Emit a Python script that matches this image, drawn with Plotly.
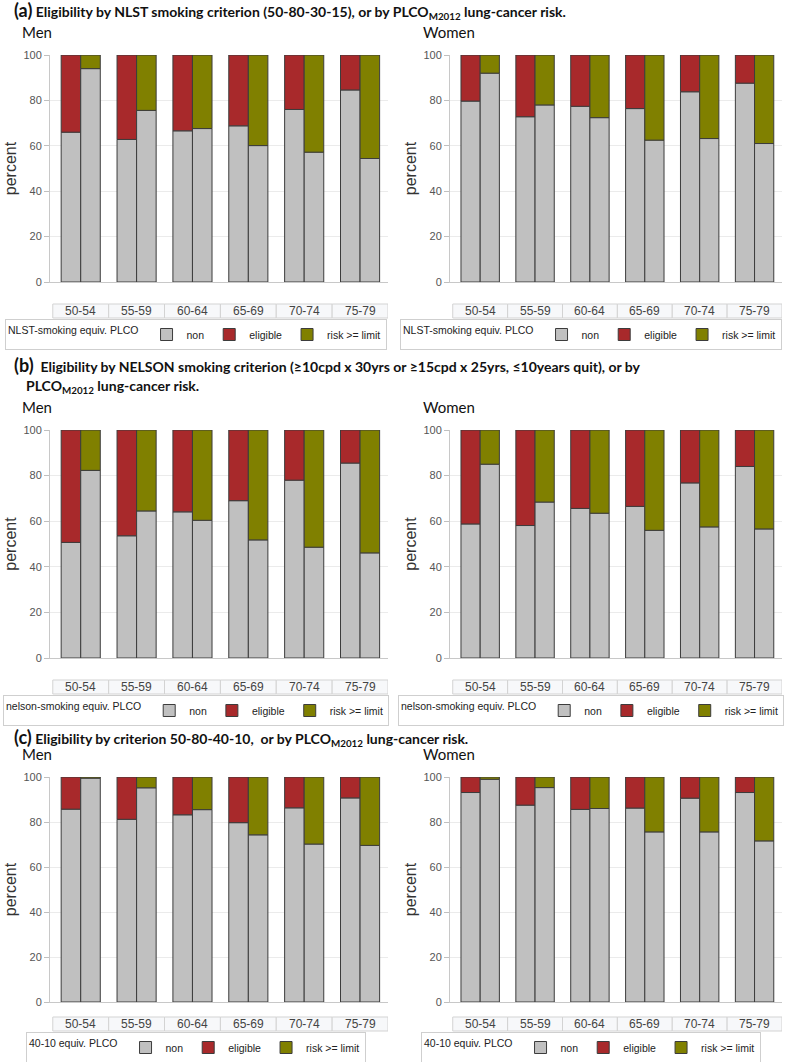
import plotly.graph_objects as go

W, H = 787, 1062

ages = ["50-54", "55-59", "60-64", "65-69", "70-74", "75-79"]
series_names = ["non", "eligible", "risk >= limit"]
legend_titles = ["NLST-smoking equiv. PLCO", "nelson-smoking equiv. PLCO", "40-10 equiv. PLCO"]

# (a) NLST criterion (50-80-30-15) vs PLCO risk
a_men_smk_non = [66, 62.8, 66.6, 68.8, 76, 84.6]
a_men_smk_elig = [34, 37.2, 33.4, 31.2, 24, 15.4]
a_men_plco_non = [94, 75.6, 67.6, 60.1, 57.2, 54.4]
a_men_plco_risk = [6, 24.4, 32.4, 39.9, 42.8, 45.6]
a_wom_smk_non = [79.7, 72.8, 77.4, 76.4, 83.8, 87.6]
a_wom_smk_elig = [20.3, 27.2, 22.6, 23.6, 16.2, 12.4]
a_wom_plco_non = [92, 78, 72.4, 62.5, 63.2, 61]
a_wom_plco_risk = [8, 22, 27.6, 37.5, 36.8, 39]

# (b) NELSON criterion vs PLCO risk
b_men_smk_non = [50.7, 53.6, 64.1, 69, 78, 85.5]
b_men_smk_elig = [49.3, 46.4, 35.9, 31, 22, 14.5]
b_men_plco_non = [82.3, 64.5, 60.4, 51.8, 48.6, 46.1]
b_men_plco_risk = [17.7, 35.5, 39.6, 48.2, 51.4, 53.9]
b_wom_smk_non = [58.8, 58.1, 65.6, 66.5, 76.8, 84]
b_wom_smk_elig = [41.2, 41.9, 34.4, 33.5, 23.2, 16]
b_wom_plco_non = [85, 68.4, 63.5, 56, 57.5, 56.6]
b_wom_plco_risk = [15, 31.6, 36.5, 44, 42.5, 43.4]

# (c) criterion 50-80-40-10 vs PLCO risk
c_men_smk_non = [85.7, 81.2, 83.2, 79.7, 86.3, 90.7]
c_men_smk_elig = [14.3, 18.8, 16.8, 20.3, 13.7, 9.3]
c_men_plco_non = [99.5, 95.2, 85.5, 74.3, 70.2, 69.6]
c_men_plco_risk = [0.5, 4.8, 14.5, 25.7, 29.8, 30.4]
c_wom_smk_non = [93.1, 87.5, 85.6, 86.2, 90.6, 93.1]
c_wom_smk_elig = [6.9, 12.5, 14.4, 13.8, 9.4, 6.9]
c_wom_plco_non = [99, 95.3, 86, 75.6, 75.6, 71.6]
c_wom_plco_risk = [1, 4.7, 14, 24.4, 24.4, 28.4]

panels = [
    (a_men_smk_non, a_men_smk_elig, a_men_plco_non, a_men_plco_risk),
    (a_wom_smk_non, a_wom_smk_elig, a_wom_plco_non, a_wom_plco_risk),
    (b_men_smk_non, b_men_smk_elig, b_men_plco_non, b_men_plco_risk),
    (b_wom_smk_non, b_wom_smk_elig, b_wom_plco_non, b_wom_plco_risk),
    (c_men_smk_non, c_men_smk_elig, c_men_plco_non, c_men_plco_risk),
    (c_wom_smk_non, c_wom_smk_elig, c_wom_plco_non, c_wom_plco_risk),
]

GREY, RED, OLIVE = "#C0C0C0", "#A8292B", "#808000"
EDGE = "#3C3C3C"
SANS = "Liberation Sans, Arial, sans-serif"
TITLEF = "Lato, Carlito, sans-serif"

def px(x):
    return x / W

def py(y):
    return 1 - y / H

# vertical geometry per row: (plot top = 100, plot bottom = 0, gap to category table)
rows = [(55, 282, 22), (430, 658, 22), (777, 1002, 15)]
xdoms = [(50, 388), (450, 782)]
legend_cx = [196, 591]

fig = go.Figure()
layout = dict(
    width=W, height=H,
    margin=dict(l=0, r=0, t=0, b=0, autoexpand=False),
    paper_bgcolor="white", plot_bgcolor="white",
    barmode="group", bargap=0.3, bargroupgap=0.0,
    showlegend=True,
)
shapes, annotations = [], []

for k, (smk_non, smk_elig, plco_non, plco_risk) in enumerate(panels):
    r, c = divmod(k, 2)
    n = k + 1
    xa = "x" if n == 1 else f"x{n}"
    ya = "y" if n == 1 else f"y{n}"
    lg = "legend" if n == 1 else f"legend{n}"
    top, bot, gap = rows[r]
    x0, x1 = xdoms[c]
    t_top, t_bot = bot + gap, bot + gap + 14

    common = dict(x=ages, xaxis=xa, yaxis=ya, legend=lg,
                  marker_line=dict(color=EDGE, width=1))
    fig.add_trace(go.Bar(y=smk_non, name=series_names[0], offsetgroup="smk",
                         marker_color=GREY, legendrank=1, **common))
    fig.add_trace(go.Bar(y=smk_elig, base=smk_non, name=series_names[1], offsetgroup="smk",
                         marker_color=RED, legendrank=2, **common))
    fig.add_trace(go.Bar(y=plco_non, name=series_names[0], offsetgroup="plco",
                         marker_color=GREY, showlegend=False, **common))
    fig.add_trace(go.Bar(y=plco_risk, base=plco_non, name=series_names[2], offsetgroup="plco",
                         marker_color=OLIVE, legendrank=3, **common))

    layout[f"xaxis{'' if n == 1 else n}"] = dict(
        domain=[px(x0), px(x1)], anchor=ya, type="category",
        range=[-0.55, 5.5], showticklabels=False, ticks="",
        showline=True, linecolor="#C8C8C8", linewidth=1, showgrid=False,
        zeroline=False, fixedrange=True, automargin=False,
    )
    layout[f"yaxis{'' if n == 1 else n}"] = dict(
        domain=[py(bot), py(top)], anchor=xa, range=[0, 100], dtick=20,
        ticks="outside", ticklen=5, tickcolor="#C0C0C0",
        showline=True, linecolor="#C8C8C8", linewidth=1,
        showgrid=True, gridcolor="#EBEBEB", gridwidth=1, zeroline=False,
        automargin=False, fixedrange=True,
        tickfont=dict(family=SANS, size=11, color="#555555"),
        title=dict(text="percent", font=dict(family=SANS, size=16, color="#333333"),
                   standoff=2),
    )
    # category table below the axis
    for i, age in enumerate(ages):
        shapes.append(dict(type="rect", xref=xa, yref="paper",
                           x0=i - 0.5, x1=i + 0.5, y0=py(t_bot), y1=py(t_top),
                           fillcolor="#F7F8FA", line=dict(color="#D3D3D3", width=1),
                           layer="below"))
        annotations.append(dict(xref=xa, yref="paper", x=age, y=py((t_top + t_bot) / 2),
                                text=age, showarrow=False, xanchor="center",
                                yanchor="middle",
                                font=dict(family=SANS, size=12, color="#444444")))
    layout[lg] = dict(
        orientation="h", x=px(legend_cx[c]), xanchor="center",
        y=py(t_bot + 1), yanchor="top",
        bgcolor="white", bordercolor="#CFCFCF", borderwidth=1,
        font=dict(family=SANS, size=10.5, color="#222222"),
        title=dict(text=legend_titles[r], side="left",
                   font=dict(family=SANS, size=10.5, color="#222222")),
        itemwidth=30, traceorder="normal", tracegroupgap=0,
        itemclick=False, itemdoubleclick=False,
    )
    annotations.append(dict(xref="paper", yref="paper",
                            x=px(20 if c == 0 else 421), y=py(top - 23),
                            text="Men" if c == 0 else "Women", showarrow=False,
                            xanchor="left", yanchor="middle",
                            font=dict(family=TITLEF, size=15, color="#111111")))

titles = [
    (11, 12, "<span style='font-size:18px'>(a)</span> Eligibility by NLST smoking criterion (50-80-30-15), or by PLCO<sub>M2012</sub> lung-cancer risk."),
    (365, 12, "<span style='font-size:18px'>(b)</span>  Eligibility by NELSON smoking criterion (≥10cpd x 30yrs or ≥15cpd x 25yrs, ≤10years quit), or by"),
    (387, 24, "PLCO<sub>M2012</sub> lung-cancer risk."),
    (737, 12, "<span style='font-size:18px'>(c)</span> Eligibility by criterion 50-80-40-10,  or by PLCO<sub>M2012</sub> lung-cancer risk."),
]
for y, x, t in titles:
    annotations.append(dict(xref="paper", yref="paper", x=px(x), y=py(y), text="<b>" + t + "</b>",
                            showarrow=False, xanchor="left", yanchor="middle",
                            font=dict(family=TITLEF, size=14, color="#111111")))

layout["shapes"] = shapes
layout["annotations"] = annotations
fig.update_layout(**layout)
fig.write_html("out.html", config={"displayModeBar": False},
               post_script="document.body.style.margin='0';document.body.style.padding='0';")
